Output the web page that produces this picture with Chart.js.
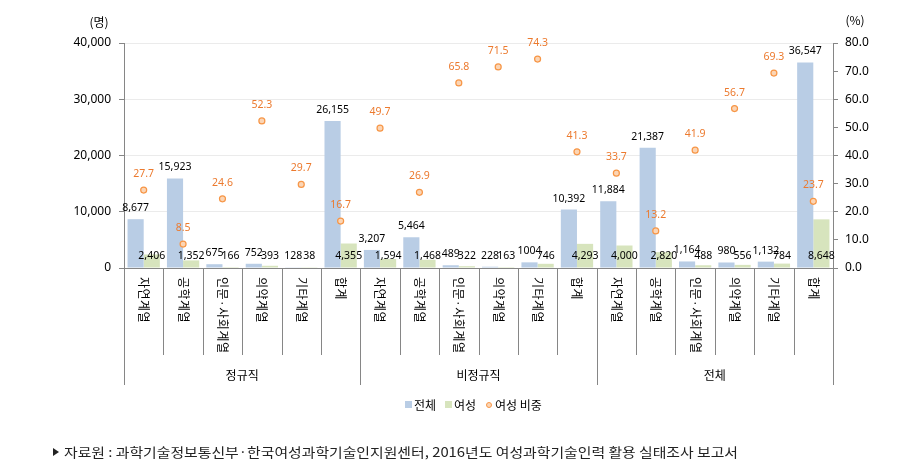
<!DOCTYPE html>
<html>
<head>
<meta charset="utf-8">
<script src="https://cdn.jsdelivr.net/npm/chart.js@4"></script>
<style>
  html, body { margin: 0; padding: 0; background: #fff; }
  #wrap { width: 900px; height: 469px; position: relative; }
</style>
</head>
<body>
<div id="wrap"><canvas id="chart" width="900" height="469"></canvas></div>
<script>
// Groups and fields (x axis, two levels)
const groups = ['정규직', '비정규직', '전체'];
const fields = ['자연계열', '공학계열', '인문·사회계열', '의약계열', '기타계열', '합계'];

// Series values, in group order (정규직, 비정규직, 전체)
const totalValues = [8677, 15923, 675, 752, 128, 26155,
                     3207, 5464, 489, 228, 1004, 10392,
                     11884, 21387, 1164, 980, 1132, 36547];
const womenValues = [2406, 1352, 166, 393, 38, 4355,
                     1594, 1468, 322, 163, 746, 4293,
                     4000, 2820, 488, 556, 784, 8648];
const shareValues = [27.7, 8.5, 24.6, 52.3, 29.7, 16.7,
                     49.7, 26.9, 65.8, 71.5, 74.3, 41.3,
                     33.7, 13.2, 41.9, 56.7, 69.3, 23.7];

// Axis ranges
const countMax = 40000, countStep = 10000;
const shareMax = 80, shareStep = 10;

const seriesNames = ['전체', '여성', '여성 비중'];
const sourceText = '자료원 : 과학기술정보통신부·한국여성과학기술인지원센터, 2016년도 여성과학기술인력 활용 실태조사 보고서';

const categories = groups.flatMap(g => fields.map(f => g + ' ' + f));

const BLUE = '#B9CDE5';
const GREEN = '#D7E4BD';
const ORANGE = '#F79646';
const ORANGE_TXT = '#EC7A2E';
const AXIS = '#868686';
const FONT = "'Noto Sans', 'Noto Sans CJK KR', sans-serif";
const KFONT = "'Noto Sans CJK KR', sans-serif";

// Excel showed one value without a thousands separator
const noComma = [10];
const fmt = (v, i) => noComma.includes(i) ? String(v) : v.toLocaleString('en-US');

/**
 * Draw labels, the two-level category axis, titles, legend and source
 */
const decorPlugin = {
    id: 'decor',
    afterDatasetsDraw(chart) {
        const { ctx, chartArea, scales } = chart;
        const x = scales.x, y = scales.y;
        const base = y.getPixelForValue(0);

        ctx.save();
        ctx.textAlign = 'center';
        ctx.textBaseline = 'middle';

        // bar value labels
        ctx.font = '10.5px ' + FONT;
        ctx.fillStyle = '#000';
        const m0 = chart.getDatasetMeta(0), m1 = chart.getDatasetMeta(1), m2 = chart.getDatasetMeta(2);
        m0.data.forEach((bar, i) => {
            ctx.fillText(fmt(totalValues[i], i), bar.x, bar.y - 11);
        });
        m1.data.forEach((bar, i) => {
            ctx.fillText(fmt(womenValues[i], i), bar.x, base - 12);
        });

        // share labels
        ctx.fillStyle = ORANGE_TXT;
        m2.data.forEach((pt, i) => {
            ctx.fillText(shareValues[i].toFixed(1), pt.x, pt.y - 16);
        });

        // category axis table
        const n = categories.length;
        const step = (x.getPixelForValue(1) - x.getPixelForValue(0));
        ctx.strokeStyle = AXIS;
        ctx.lineWidth = 1;
        for (let i = 0; i <= n; i++) {
            const bx = Math.round(x.getPixelForValue(i) - step / 2) + 0.5;
            const isGroup = i % fields.length === 0;
            ctx.beginPath();
            ctx.moveTo(bx, base);
            ctx.lineTo(bx, isGroup ? base + 117 : base + 87);
            ctx.stroke();
        }

        // vertical field names
        ctx.fillStyle = '#000';
        ctx.font = '12px ' + KFONT;
        ctx.textAlign = 'left';
        if ('letterSpacing' in ctx) ctx.letterSpacing = '0.5px';
        categories.forEach((c, i) => {
            const cx = x.getPixelForValue(i);
            ctx.save();
            ctx.translate(cx, base + 9);
            ctx.rotate(Math.PI / 2);
            ctx.fillText(fields[i % fields.length], 0, 0);
            ctx.restore();
        });
        if ('letterSpacing' in ctx) ctx.letterSpacing = '0px';

        // group names
        ctx.textAlign = 'center';
        ctx.font = '12px ' + KFONT;
        groups.forEach((g, gi) => {
            const a = x.getPixelForValue(gi * fields.length);
            const b = x.getPixelForValue(gi * fields.length + fields.length - 1);
            ctx.fillText(g, (a + b) / 2, base + 107);
        });

        // axis titles
        ctx.font = '12px ' + KFONT;
        ctx.fillText('(명)', chartArea.left - 25, 22);
        ctx.fillText('(%)', chartArea.right + 22, 20);

        // legend
        const ly = 405;
        let lx = 405;
        ctx.textAlign = 'left';
        ctx.font = '12px ' + KFONT;
        ctx.fillStyle = BLUE;
        ctx.fillRect(lx, ly - 4, 7, 7);
        ctx.fillStyle = '#000';
        ctx.fillText(seriesNames[0], lx + 9, ly);
        lx = 445;
        ctx.fillStyle = GREEN;
        ctx.fillRect(lx, ly - 4, 7, 7);
        ctx.fillStyle = '#000';
        ctx.fillText(seriesNames[1], lx + 9, ly);
        lx = 489;
        ctx.beginPath();
        ctx.arc(lx, ly, 2.5, 0, Math.PI * 2);
        ctx.fillStyle = '#FBD5B5';
        ctx.fill();
        ctx.strokeStyle = ORANGE;
        ctx.stroke();
        ctx.fillStyle = '#000';
        ctx.fillText(seriesNames[2], lx + 6, ly);

        // source note
        ctx.fillStyle = '#222';
        ctx.beginPath();
        ctx.moveTo(53, 448);
        ctx.lineTo(59, 452);
        ctx.lineTo(53, 456);
        ctx.closePath();
        ctx.fill();
        ctx.font = '13px ' + KFONT;
        const w = ctx.measureText(sourceText).width;
        const target = 738 - 64;
        ctx.save();
        ctx.translate(64, 452);
        ctx.scale(target / w, 1);
        ctx.fillText(sourceText, 0, 0);
        ctx.restore();

        ctx.restore();
    }
};

new Chart(document.getElementById('chart'), {
    type: 'bar',
    data: {
        labels: categories,
        datasets: [
            {
                label: seriesNames[0],
                data: totalValues,
                backgroundColor: BLUE,
                yAxisID: 'y',
                order: 2
            },
            {
                label: seriesNames[1],
                data: womenValues,
                backgroundColor: GREEN,
                yAxisID: 'y',
                order: 2
            },
            {
                type: 'line',
                label: seriesNames[2],
                data: shareValues,
                yAxisID: 'y1',
                showLine: false,
                pointRadius: 3,
                pointBorderWidth: 1.2,
                pointBackgroundColor: '#FBD5B5',
                pointBorderColor: ORANGE,
                order: 1
            }
        ]
    },
    options: {
        responsive: false,
        animation: false,
        layout: {
            padding: { left: 0, right: 0, top: 43, bottom: 201 }
        },
        datasets: {
            bar: { barPercentage: 1, categoryPercentage: 0.82 }
        },
        plugins: {
            legend: { display: false },
            tooltip: { enabled: false }
        },
        scales: {
            x: {
                display: false
            },
            y: {
                position: 'left',
                min: 0,
                max: countMax,
                afterFit: (s) => { s.width = 124; },
                ticks: {
                    stepSize: countStep,
                    padding: 8,
                    color: '#000',
                    font: { family: FONT, size: 12 },
                    callback: v => v.toLocaleString('en-US')
                },
                grid: {
                    color: ctx => ctx.tick && ctx.tick.value === 0 ? AXIS : '#EBEBEB',
                    tickColor: AXIS,
                    tickLength: 5
                },
                border: { color: AXIS }
            },
            y1: {
                position: 'right',
                min: 0,
                max: shareMax,
                afterFit: (s) => { s.width = 67; },
                ticks: {
                    stepSize: shareStep,
                    padding: 7,
                    color: '#000',
                    font: { family: FONT, size: 12 },
                    callback: v => v.toFixed(1)
                },
                grid: {
                    drawOnChartArea: false,
                    tickColor: AXIS,
                    tickLength: 5
                },
                border: { color: AXIS }
            }
        }
    },
    plugins: [decorPlugin]
});
</script>
</body>
</html>
